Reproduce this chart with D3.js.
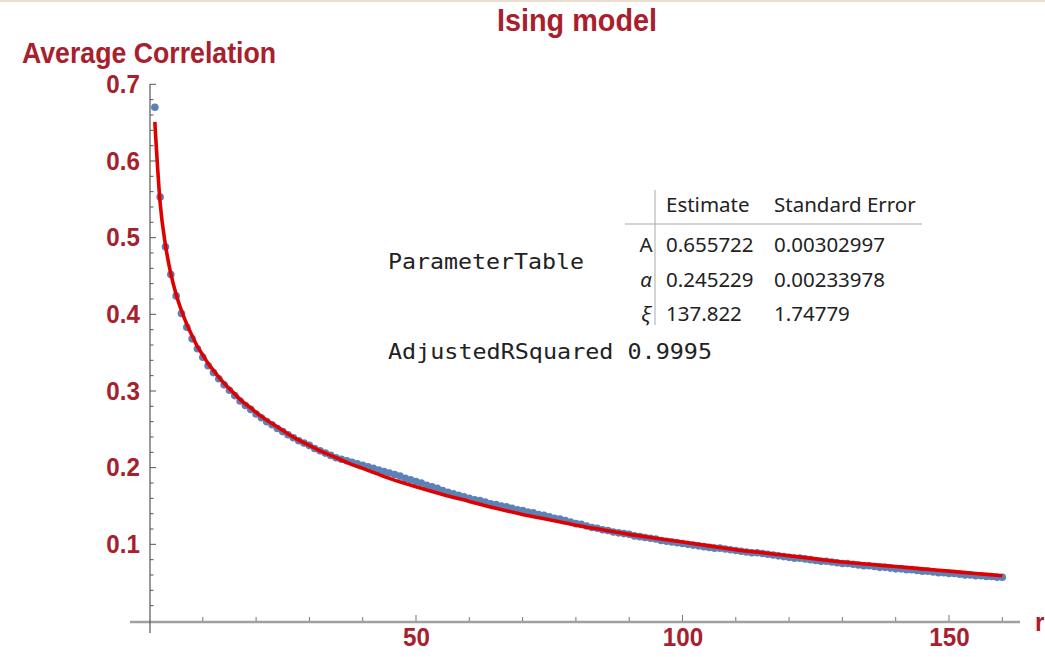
<!DOCTYPE html>
<html>
<head>
<meta charset="utf-8">
<script src="https://cdn.jsdelivr.net/npm/d3@7"></script>
<style>
  body { margin: 0; background: #fff; }
  svg { display: block; }
</style>
</head>
<body>
<div id="canvas"></div>
<script>
// average correlation at r = 1..160 (blue points)
const corr = [
  0.670, 0.553, 0.488, 0.452, 0.424, 0.401, 0.383, 0.368, 0.355, 0.344,
  0.333, 0.324, 0.316, 0.308, 0.301, 0.294, 0.287, 0.281, 0.276, 0.270,
  0.265, 0.260, 0.256, 0.251, 0.247, 0.243, 0.239, 0.235, 0.232, 0.229,
  0.225, 0.222, 0.219, 0.216, 0.213, 0.211, 0.209, 0.207, 0.205, 0.203,
  0.201, 0.199, 0.197, 0.195, 0.193, 0.191, 0.189, 0.186, 0.184, 0.182,
  0.180, 0.177, 0.175, 0.173, 0.170, 0.168, 0.166, 0.164, 0.162, 0.160,
  0.158, 0.157, 0.155, 0.153, 0.152, 0.150, 0.149, 0.147, 0.145, 0.144,
  0.142, 0.141, 0.139, 0.138, 0.136, 0.134, 0.133, 0.131, 0.129, 0.127,
  0.126, 0.124, 0.122, 0.121, 0.119, 0.118, 0.116, 0.115, 0.114, 0.113,
  0.111, 0.110, 0.109, 0.108, 0.107, 0.105, 0.104, 0.103, 0.102, 0.101,
  0.100, 0.099, 0.098, 0.097, 0.096, 0.095, 0.095, 0.094, 0.093, 0.092,
  0.091, 0.090, 0.089, 0.089, 0.088, 0.087, 0.086, 0.085, 0.084, 0.083,
  0.082, 0.082, 0.081, 0.080, 0.079, 0.078, 0.078, 0.077, 0.076, 0.075,
  0.075, 0.074, 0.073, 0.072, 0.072, 0.071, 0.070, 0.070, 0.069, 0.068,
  0.068, 0.067, 0.067, 0.066, 0.065, 0.065, 0.064, 0.063, 0.063, 0.062,
  0.062, 0.061, 0.060, 0.060, 0.059, 0.059, 0.058, 0.058, 0.057, 0.057
];

// red fit curve, read at these r
const fitR = [1, 2, 3, 4, 5, 6, 7, 8, 9, 10, 11, 12, 13, 14, 15, 16, 17, 18, 19, 20,
  22, 24, 26, 28, 30, 32, 34, 36, 38, 40, 45, 50, 55, 60, 65, 70, 75, 80, 85, 90,
  95, 100, 105, 110, 115, 120, 125, 130, 135, 140, 145, 150, 155, 160];
const fitVal = [0.651, 0.545, 0.490, 0.453, 0.426, 0.405, 0.387, 0.372, 0.358, 0.347,
  0.336, 0.327, 0.318, 0.310, 0.303, 0.296, 0.289, 0.283, 0.278, 0.272,
  0.262, 0.253, 0.244, 0.236, 0.229, 0.222, 0.216, 0.210, 0.204, 0.199,
  0.186, 0.175, 0.165, 0.156, 0.147, 0.139, 0.132, 0.125, 0.119, 0.113,
  0.108, 0.103, 0.098, 0.093, 0.089, 0.085, 0.081, 0.077, 0.074, 0.071,
  0.068, 0.065, 0.062, 0.059];

const xTicks = [50, 100, 150];
const yTicks = [0.1, 0.2, 0.3, 0.4, 0.5, 0.6, 0.7];

// fit table
const paramNames = ["A", "\u03b1", "\u03be"];
const estimates = ["0.655722", "0.245229", "137.822"];
const stdErrors = ["0.00302997", "0.00233978", "1.74779"];
const tableHead = ["Estimate", "Standard Error"];
const adjR2 = "0.9995";

const width = 1045, height = 657;
const red = "#a8202c";
const narrow = "'Liberation Sans Narrow', 'Arial Narrow', 'Liberation Sans', sans-serif";

const svg = d3.select("#canvas").append("svg")
    .attr("width", width)
    .attr("height", height);

svg.append("rect").attr("x", 0).attr("y", 0).attr("width", width).attr("height", 2)
    .style("fill", "#eadfce");

const x = d3.scaleLinear().domain([0, 160]).range([149.5, 1002.3]);
const y = d3.scaleLinear().domain([0, 0.7]).range([621, 84.3]);

// squeeze a bold label a bit so it reads like a narrow face
function condensed(sel, size, k) {
  sel.style("font-family", narrow).style("font-weight", "bold")
     .style("font-size", size + "px").style("fill", red)
     .attr("lengthAdjust", "spacingAndGlyphs")
     .attr("textLength", function () { return this.getComputedTextLength() * k; });
}

// axes
svg.append("line").attr("x1", 130).attr("x2", 1020).attr("y1", 622).attr("y2", 622)
    .style("stroke", "#a0a0a0").style("stroke-width", 2.5);
svg.append("line").attr("x1", 150).attr("x2", 150).attr("y1", 84).attr("y2", 633)
    .style("stroke", "#555").style("stroke-width", 1.2);

// x ticks every 10
svg.append("g").selectAll("line").data(d3.range(10, 161, 10)).enter().append("line")
    .attr("x1", d => x(d)).attr("x2", d => x(d))
    .attr("y1", 621).attr("y2", d => d % 50 === 0 ? 615 : 617)
    .style("stroke", "#777").style("stroke-width", 1);

// y ticks
svg.append("g").selectAll("line").data(d3.range(1, 36)).enter().append("line")
    .attr("x1", 150).attr("x2", d => d % 5 === 0 ? 156 : 153.5)
    .attr("y1", d => y(d * 0.02)).attr("y2", d => y(d * 0.02))
    .style("stroke", "#555").style("stroke-width", 1);

// x labels
const xAxis = svg.append("g")
    .attr("transform", "translate(0,622)")
    .call(d3.axisBottom(x).tickValues(xTicks).tickSize(0).tickPadding(6));
xAxis.select(".domain").remove();
xAxis.selectAll("text").call(condensed, 26, 0.93);

// y labels
const yAxis = svg.append("g")
    .attr("transform", "translate(140,0)")
    .call(d3.axisLeft(y).tickValues(yTicks).tickSize(0).tickPadding(0).tickFormat(d3.format(".1f")));
yAxis.select(".domain").remove();
yAxis.selectAll("text").call(condensed, 26, 0.93);

// data points
svg.append("g").selectAll("circle").data(corr).enter().append("circle")
    .attr("cx", (d, i) => x(i + 1))
    .attr("cy", d => y(d))
    .attr("r", 3.8)
    .style("fill", "#5e81b5");

// fit line
const line = d3.line()
    .x(d => x(d[0]))
    .y(d => y(d[1]))
    .curve(d3.curveMonotoneX);
svg.append("path")
    .datum(fitR.map((r, i) => [r, fitVal[i]]))
    .attr("d", line)
    .style("fill", "none")
    .style("stroke", "#e00000")
    .style("stroke-width", 3.6);

// titles
svg.append("text").attr("x", 577).attr("y", 31).attr("text-anchor", "middle")
    .text("Ising model").call(condensed, 31, 0.93);
svg.append("text").attr("x", 22).attr("y", 63)
    .text("Average Correlation").call(condensed, 29, 0.92);
svg.append("text").attr("x", 1035).attr("y", 631)
    .text("r").call(condensed, 26, 0.93);

// parameter table
const mono = "'DejaVu Sans Mono', 'Liberation Mono', monospace";
const sans = "'Noto Sans', 'Open Sans', sans-serif";
const tcol = "#222";
svg.append("text").attr("x", 388).attr("y", 269)
    .attr("textLength", 196).attr("lengthAdjust", "spacingAndGlyphs")
    .style("font-family", mono).style("font-size", "21px").style("fill", tcol)
    .text("ParameterTable");
svg.append("text").attr("x", 388).attr("y", 359)
    .attr("textLength", 324).attr("lengthAdjust", "spacingAndGlyphs")
    .style("font-family", mono).style("font-size", "21px").style("fill", tcol)
    .text("AdjustedRSquared " + adjR2);

svg.append("line").attr("x1", 655).attr("x2", 655).attr("y1", 190).attr("y2", 325)
    .style("stroke", "#aaa").style("stroke-width", 1);
svg.append("line").attr("x1", 625).attr("x2", 922).attr("y1", 224).attr("y2", 224)
    .style("stroke", "#aaa").style("stroke-width", 1);

const colX = [666, 774];
const rowY = [252, 287, 321];
const fs = "20.5px";
tableHead.forEach((h, i) => {
  svg.append("text").attr("x", colX[i]).attr("y", 212)
    .style("font-family", sans).style("font-size", fs).style("fill", tcol).text(h);
});
paramNames.forEach((p, i) => {
  svg.append("text").attr("x", 646).attr("y", rowY[i]).attr("text-anchor", "middle")
    .style("font-family", sans).style("font-size", fs).style("fill", tcol)
    .style("font-style", i > 0 ? "italic" : "normal").text(p);
  svg.append("text").attr("x", colX[0]).attr("y", rowY[i])
    .style("font-family", sans).style("font-size", fs).style("fill", tcol).text(estimates[i]);
  svg.append("text").attr("x", colX[1]).attr("y", rowY[i])
    .style("font-family", sans).style("font-size", fs).style("fill", tcol).text(stdErrors[i]);
});
</script>
</body>
</html>
